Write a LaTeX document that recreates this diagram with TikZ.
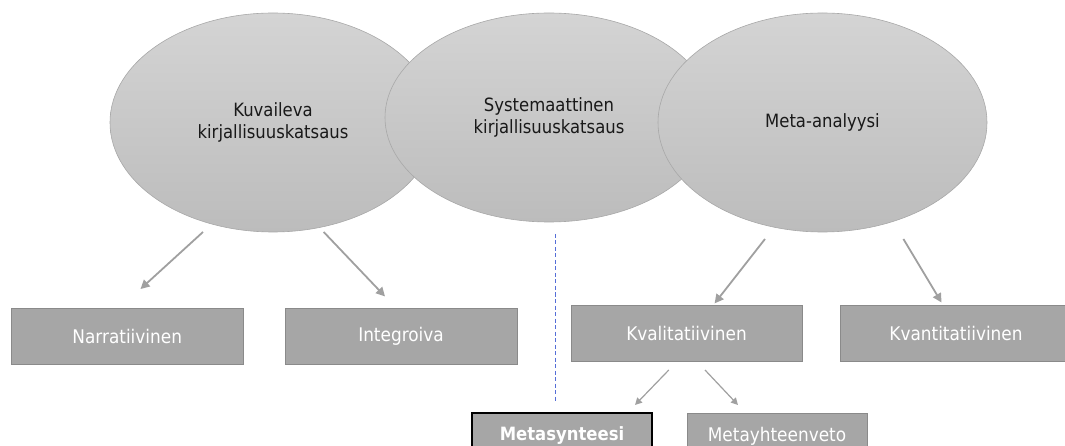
\documentclass[tikz,border=0pt]{standalone}
\usepackage{fontspec}
\setmainfont{DejaVu Sans Condensed}
\usetikzlibrary{shapes.geometric,arrows.meta}

\definecolor{elltop}{RGB}{212,212,212}
\definecolor{ellbot}{RGB}{188,188,188}
\definecolor{ellline}{RGB}{168,168,168}
\definecolor{boxfill}{RGB}{166,166,166}
\definecolor{boxline}{RGB}{138,138,138}
\definecolor{arrowgray}{RGB}{160,160,160}
\definecolor{divider}{RGB}{85,110,215}
\definecolor{ink}{RGB}{25,25,25}

\tikzset{
  bubble/.style={ellipse, draw=ellline, line width=0.6pt, top color=elltop,
    bottom color=ellbot, inner sep=0pt, align=center, text=ink,
    font=\fontsize{18.3}{22.5}\selectfont},
  typebox/.style={rectangle, draw=boxline, line width=1pt, fill=boxfill,
    text=white, inner sep=0pt, minimum height=56pt,
    font=\fontsize{18.8}{20}\selectfont},
  subbox/.style={typebox, minimum height=46pt, minimum width=180pt},
  arr/.style={draw=arrowgray, line width=1.8pt,
    -{Triangle[length=9pt,width=9pt]}, arrowgray},
  subarr/.style={arr, line width=1.2pt, -{Triangle[length=7pt,width=7pt]}}
}

\begin{document}
\begin{tikzpicture}[x=1pt,y=-1pt]
  \useasboundingbox (0,0) rectangle (1065,446);
  \clip (0,0) rectangle (1065,446);

  % the three overlapping review types
  \node[bubble, minimum width=326pt, minimum height=219pt] (kuv) at (273,122.5)
    {Kuvaileva\\kirjallisuuskatsaus};
  \node[bubble, minimum width=328pt, minimum height=209pt] (sys) at (549,117.5)
    {Systemaattinen\\kirjallisuuskatsaus};
  \node[bubble, minimum width=329pt, minimum height=219pt] (meta) at (822.5,122.5)
    {Meta-analyysi};

  % subtypes
  \node[typebox, minimum width=232pt] (nar) at (127.2,336) {Narratiivinen};
  \node[typebox, minimum width=232pt] (int) at (401,336) {Integroiva};
  \node[typebox, minimum width=231pt] (kval) at (686.5,333.5) {Kvalitatiivinen};
  \node[typebox, minimum width=231pt] (kvan) at (956,333.5) {Kvantitatiivinen};
  \node[subbox, draw=black, line width=1.6pt, font=\fontsize{18.3}{20}\selectfont\bfseries]
    (synt) at (562,436) {Metasynteesi};
  \node[subbox] (yht) at (777,436) {Metayhteenveto};

  % arrow ends
  \coordinate (kuvL) at (203,232);   \coordinate (narT) at (140.5,289);
  \coordinate (kuvR) at (323.7,232); \coordinate (intT) at (385,296.4);
  \coordinate (metaL) at (765,239);  \coordinate (kvalT) at (714.6,303.4);
  \coordinate (metaR) at (903.4,239);\coordinate (kvanT) at (941.5,302.5);
  \coordinate (kvalL) at (668.8,370);\coordinate (syntT) at (635,405);
  \coordinate (kvalR) at (705,370);  \coordinate (yhtT) at (738,405);

  \draw[arr] (kuvL) -- (narT);
  \draw[arr] (kuvR) -- (intT);
  \draw[arr] (metaL) -- (kvalT);
  \draw[arr] (metaR) -- (kvanT);
  \draw[subarr] (kvalL) -- (syntT);
  \draw[subarr] (kvalR) -- (yhtT);

  % dividing line
  \coordinate (divTop) at (555.5,234);
  \coordinate (divBot) at (555.5,400.7);
  \draw[divider, line width=0.9pt, dash pattern=on 4pt off 2.5pt] (divTop) -- (divBot);
\end{tikzpicture}
\end{document}
